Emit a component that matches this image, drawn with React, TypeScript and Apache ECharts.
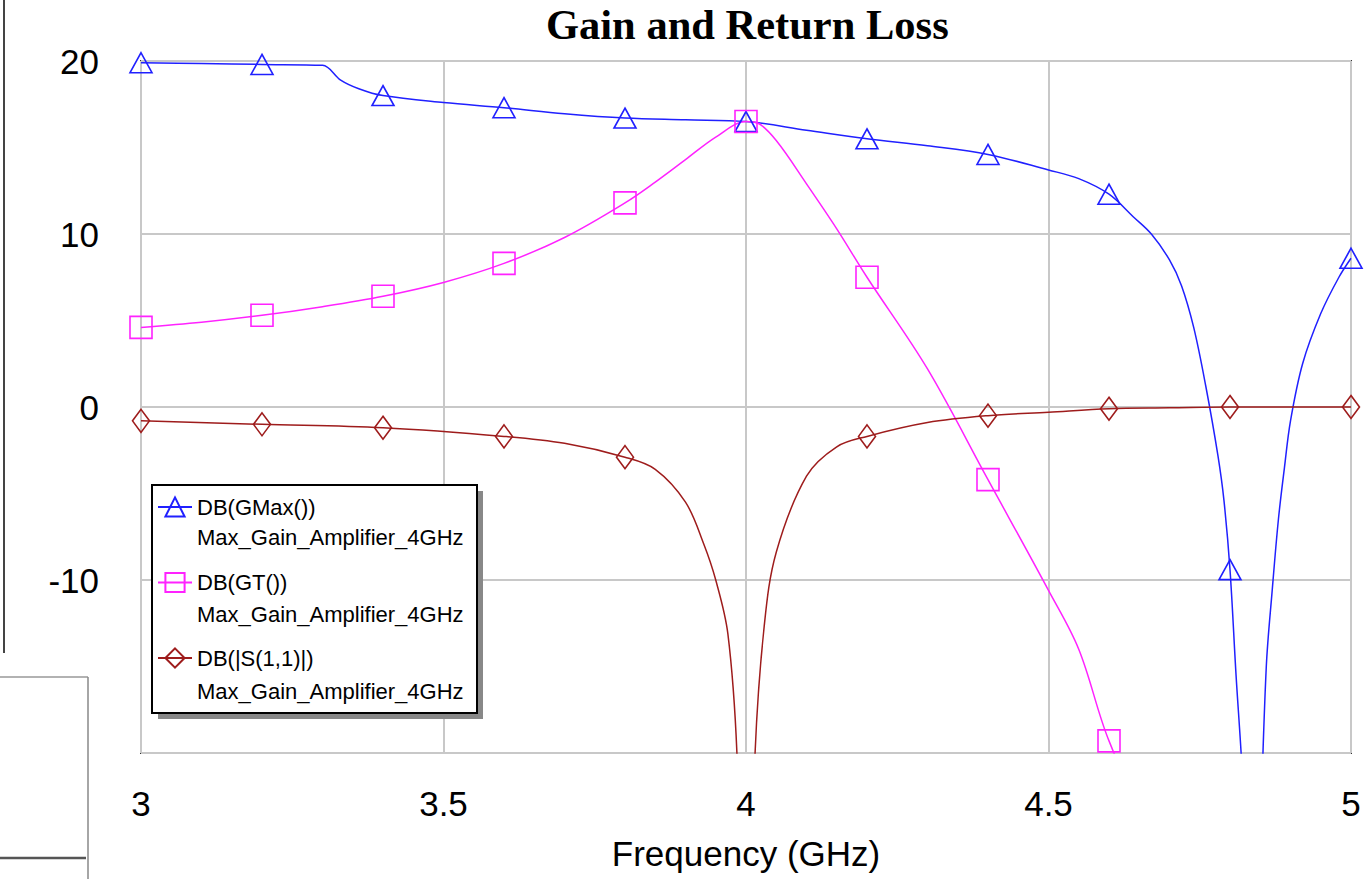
import React, { useEffect, useRef } from 'react';
import * as echarts from 'echarts';

// ---- data ----
const xTicks = [3, 3.5, 4, 4.5, 5];
const yTicks = [-20, -10, 0, 10, 20];
const markerFreq = [3.0, 3.2, 3.4, 3.6, 3.8, 4.0, 4.2, 4.4, 4.6, 4.8, 5.0];
const seriesNames = ['DB(GMax())', 'DB(GT())', 'DB(|S(1,1)|)'];
const legendSubtitle = 'Max_Gain_Amplifier_4GHz';

const gmaxFreq = [3.0, 3.1, 3.2, 3.3, 3.33, 3.36, 3.4, 3.5, 3.6, 3.7, 3.8, 3.9, 4.0, 4.1, 4.2, 4.3, 4.4, 4.5, 4.55, 4.6, 4.64, 4.67, 4.7, 4.72, 4.74, 4.76, 4.78, 4.79, 4.8, 4.81, 4.82, 4.84, 4.85, 4.86, 4.87, 4.88, 4.89, 4.9, 4.92, 4.95, 4.98, 5.0];
const gmaxDb = [19.9, 19.85, 19.8, 19.75, 18.9, 18.4, 18.0, 17.6, 17.3, 16.95, 16.7, 16.6, 16.5, 16.0, 15.5, 15.1, 14.6, 13.7, 13.2, 12.3, 11.0, 10.0, 8.5, 7.0, 4.6, 1.2, -2.8, -5.4, -9.4, -15.5, -21, -36, -25, -15, -10.5, -6.5, -3.5, -0.8, 2.5, 5.4, 7.5, 8.6];

const gtFreq = [3.0, 3.1, 3.2, 3.3, 3.4, 3.5, 3.6, 3.7, 3.8, 3.85, 3.9, 3.95, 4.0, 4.02, 4.05, 4.1, 4.15, 4.2, 4.3, 4.4, 4.5, 4.55, 4.6, 4.7, 4.8, 4.9, 5.0];
const gtDb = [4.6, 4.9, 5.3, 5.8, 6.4, 7.2, 8.3, 9.8, 11.8, 13.0, 14.3, 15.6, 16.5, 16.4, 15.4, 12.9, 10.3, 7.5, 2.2, -4.2, -10.6, -14.0, -19.3, -27, -32, -36, -38];

const s11Freq = [3.0, 3.2, 3.4, 3.6, 3.7, 3.8, 3.85, 3.9, 3.93, 3.95, 3.97, 3.985, 4.0, 4.015, 4.03, 4.05, 4.1, 4.15, 4.2, 4.3, 4.4, 4.5, 4.6, 4.7, 4.8, 4.9, 5.0];
const s11Db = [-0.8, -1.0, -1.2, -1.7, -2.1, -2.9, -3.6, -5.5, -7.9, -10.0, -13.1, -20, -38, -20, -12.7, -8.4, -4.0, -2.3, -1.7, -0.9, -0.5, -0.3, -0.1, -0.05, 0.0, 0.0, 0.0];

const BLUE = '#2020ff';
const MAGENTA = '#ff22ff';
const BROWN = '#9e1c1c';
const SANS = 'Arial, "Liberation Sans", sans-serif';
const SERIF = '"Times New Roman", "Liberation Serif", serif';

function build(freq: number[], vals: number[]) {
  return freq.map((f, i) => {
    const isMarker = markerFreq.some((m) => Math.abs(m - f) < 1e-6);
    return isMarker ? { value: [f, vals[i]] } : { value: [f, vals[i]], symbol: 'none' };
  });
}

function lineSeries(name: string, freq: number[], vals: number[], color: string, symbol: string, size: number | number[]) {
  return {
    name,
    type: 'line',
    data: build(freq, vals),
    symbol,
    symbolSize: size,
    showAllSymbol: true,
    smooth: 0.35,
    clip: true,
    lineStyle: { color, width: 1.5 },
    itemStyle: { color: 'rgba(255,255,255,0)', borderColor: color, borderWidth: 1.6 },
    emphasis: { disabled: true },
    z: 2,
  };
}

export default function App() {
  const ref = useRef<HTMLDivElement>(null);
  useEffect(() => {
    const chart = echarts.init(ref.current!, null, { renderer: 'svg' });
    const option: any = {
      animation: false,
      backgroundColor: '#ffffff',
      title: {
        text: 'Gain and Return Loss',
        left: 541,
        top: -2,
        textStyle: { fontFamily: SERIF, fontWeight: 'bold', fontSize: 42.5, color: '#000' },
      },
      grid: {
        left: 141,
        top: 61,
        right: 13,
        bottom: 126,
        show: true,
        borderColor: '#333',
        borderWidth: 2,
        backgroundColor: 'rgba(0,0,0,0)',
      },
      xAxis: {
        type: 'value',
        min: xTicks[0],
        max: xTicks[xTicks.length - 1],
        interval: 0.5,
        name: 'Frequency (GHz)',
        nameLocation: 'middle',
        nameGap: 83,
        nameTextStyle: { fontFamily: SANS, fontSize: 35, color: '#000' },
        axisLine: { show: false },
        axisTick: { show: false },
        axisLabel: { fontFamily: SANS, fontSize: 35, color: '#000', margin: 33 },
        splitLine: { show: true, lineStyle: { color: '#c8c8c8', width: 2 } },
      },
      yAxis: {
        type: 'value',
        min: yTicks[0],
        max: yTicks[yTicks.length - 1],
        interval: 10,
        axisLine: { show: false },
        axisTick: { show: false },
        axisLabel: {
          fontFamily: SANS,
          fontSize: 35,
          color: '#000',
          margin: 42,
          formatter: (v: number) => (v === yTicks[0] ? '' : String(v)),
        },
        splitLine: { show: true, lineStyle: { color: '#c8c8c8', width: 2 } },
      },
      legend: {
        orient: 'vertical',
        left: 157,
        top: 496,
        padding: 0,
        itemWidth: 34,
        itemHeight: 24,
        itemGap: 53.5,
        selectedMode: false,
        data: seriesNames,
        textStyle: { fontFamily: SANS, fontSize: 22, color: '#000' },
        z: 6,
      },
      graphic: [
        // stray scan artifacts on the left
        { type: 'line', z: 1, shape: { x1: 4, y1: 0, x2: 4, y2: 653 }, style: { stroke: '#444', lineWidth: 2 } },
        { type: 'line', z: 1, shape: { x1: 0, y1: 677, x2: 88, y2: 677 }, style: { stroke: '#999', lineWidth: 1.5 } },
        { type: 'line', z: 1, shape: { x1: 88, y1: 677, x2: 88, y2: 879 }, style: { stroke: '#888', lineWidth: 1.5 } },
        { type: 'line', z: 1, shape: { x1: 0, y1: 858, x2: 86, y2: 858 }, style: { stroke: '#555', lineWidth: 2.5 } },
        // legend box with shadow
        { type: 'rect', z: 3, shape: { x: 158, y: 491, width: 325, height: 228 }, style: { fill: '#888' } },
        { type: 'rect', z: 3, shape: { x: 152, y: 485, width: 325, height: 228 }, style: { fill: '#fff', stroke: '#000', lineWidth: 2 } },
        ...[537, 614, 691].map((y) => ({
          type: 'text',
          z: 7,
          x: 197,
          y,
          style: { text: legendSubtitle, fill: '#000', font: `22px ${SANS}`, verticalAlign: 'middle' },
        })),
      ],
      series: [
        lineSeries(seriesNames[0], gmaxFreq, gmaxDb, BLUE, 'triangle', [22, 20]),
        lineSeries(seriesNames[1], gtFreq, gtDb, MAGENTA, 'rect', 22),
        lineSeries(seriesNames[2], s11Freq, s11Db, BROWN, 'diamond', [17, 23]),
      ],
    };
    chart.setOption(option);
    return () => chart.dispose();
  }, []);
  return (
    <div
      ref={ref}
      style={{ position: 'fixed', left: 0, top: 0, width: 1364, height: 879, background: '#fff' }}
    />
  );
}
